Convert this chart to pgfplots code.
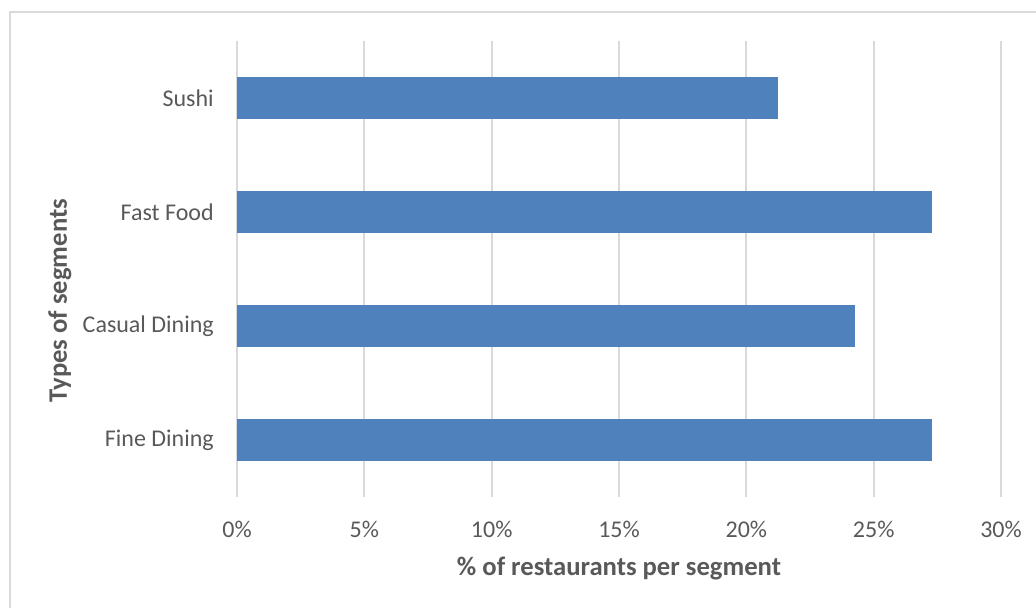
\documentclass[border=0pt]{standalone}
\usepackage{pgfplots}
\pgfplotsset{compat=1.18}
\usepackage{fontspec}
\setmainfont{Carlito}
\definecolor{barblue}{HTML}{4F81BD}
\definecolor{txtgray}{HTML}{595959}
\definecolor{gridgray}{HTML}{D9D9D9}
\begin{document}
\begin{tikzpicture}[x=0.75pt,y=0.75pt]
\useasboundingbox (0,0) rectangle (1036,608);
\draw[gridgray, line width=1.5pt] (10,0) -- (10,596) -- (1036,596);
\begin{axis}[
  at={(177.75pt,83.25pt)}, anchor=south west,
  scale only axis, width=573pt, height=342pt,
  xmin=0, xmax=30, ymin=-0.5, ymax=3.5,
  xbar, bar width=30.75pt,
  axis line style={draw=none},
  major tick length=0pt,
  xtick={0,5,10,15,20,25,30},
  xticklabels={0\%,5\%,10\%,15\%,20\%,25\%,30\%},
  ytick={0,1,2,3},
  yticklabels={Fine Dining,Casual Dining,Fast Food,Sushi},
  xmajorgrids, ymajorgrids=false,
  grid style={gridgray, line width=1.5pt},
  ticklabel style={font=\fontsize{18}{21.6}\selectfont, text=txtgray},
  xticklabel style={anchor=center, inner sep=0pt, yshift=-24pt},
  yticklabel style={anchor=east, inner sep=0pt, xshift=-17.25pt},
  xlabel={\% of restaurants per segment},
  ylabel={Types of segments},
  label style={font=\bfseries\fontsize{20}{24}\selectfont, text=txtgray},
  xlabel style={at={(axis description cs:0.5,0)}, anchor=center, inner sep=0pt, yshift=-53.25pt},
  ylabel style={at={(axis description cs:-0.232,0.43)}, anchor=center, inner sep=0pt, rotate=0},
]
\addplot[fill=barblue, draw=barblue, line width=0.5pt] coordinates {
  (27.27,0) (24.24,1) (27.27,2) (21.21,3)
};
\end{axis}
\end{tikzpicture}
\end{document}
